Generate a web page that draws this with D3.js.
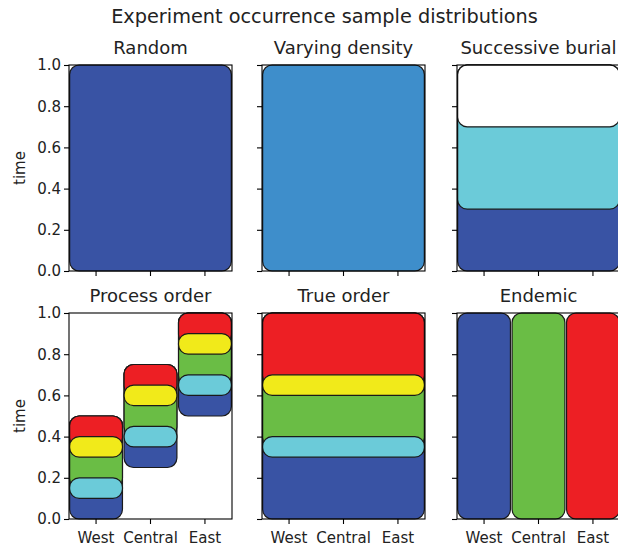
<!DOCTYPE html>
<html>
<head>
<meta charset="utf-8">
<script src="https://cdn.jsdelivr.net/npm/d3@7"></script>
<style>
  body { margin: 0; background: #fff; }
  svg { display: block; font-family: "DejaVu Sans", sans-serif; }
</style>
</head>
<body>
<svg id="chart" width="618" height="550"></svg>
<script>
// Regions (x categories) and time ticks
const regions = ["West", "Central", "East"];
const timeTicks = [0, 0.2, 0.4, 0.6, 0.8, 1.0];

const palette = {
  blue: "#3953a4",
  sky: "#3e8ecb",
  cyan: "#6bcbd9",
  green: "#6abd45",
  yellow: "#f1ea1a",
  red: "#ed1f24",
  white: "#ffffff"
};

// Each layer: colour, first region, last region, start time, end time.
// Later layers are drawn on top of earlier ones.
const randomLayers = [
  ["blue", 0, 2, 0, 1]
];
const densityLayers = [
  ["sky", 0, 2, 0, 1]
];
const burialLayers = [
  ["blue", 0, 2, 0, 1],
  ["cyan", 0, 2, 0.3, 1],
  ["white", 0, 2, 0.7, 1]
];
const processLayers = [
  ["blue", 0, 0, 0, 0.5], ["green", 0, 0, 0.15, 0.5], ["red", 0, 0, 0.35, 0.5],
  ["cyan", 0, 0, 0.1, 0.2], ["yellow", 0, 0, 0.3, 0.4],
  ["blue", 1, 1, 0.25, 0.75], ["green", 1, 1, 0.4, 0.75], ["red", 1, 1, 0.6, 0.75],
  ["cyan", 1, 1, 0.35, 0.45], ["yellow", 1, 1, 0.55, 0.65],
  ["blue", 2, 2, 0.5, 1], ["green", 2, 2, 0.65, 1], ["red", 2, 2, 0.85, 1],
  ["cyan", 2, 2, 0.6, 0.7], ["yellow", 2, 2, 0.8, 0.9]
];
const trueOrderLayers = [
  ["blue", 0, 2, 0, 1], ["green", 0, 2, 0.35, 1], ["red", 0, 2, 0.65, 1],
  ["cyan", 0, 2, 0.3, 0.4], ["yellow", 0, 2, 0.6, 0.7]
];
const endemicLayers = [
  ["blue", 0, 0, 0, 1],
  ["green", 1, 1, 0, 1],
  ["red", 2, 2, 0, 1]
];

const panelTitles = ["Random", "Varying density", "Successive burial",
                     "Process order", "True order", "Endemic"];
const panelLayers = [randomLayers, densityLayers, burialLayers,
                     processLayers, trueOrderLayers, endemicLayers];

const svg = d3.select("#chart");
const textColor = "#222";

// Grid layout
const colLeft = [69, 262, 457];
const rowTop = [65, 313];
const axW = 163, axH = 206;

svg.append("text")
  .attr("x", 324.5).attr("y", 23)
  .attr("text-anchor", "middle")
  .attr("font-size", 19.3)
  .attr("fill", textColor)
  .text("Experiment occurrence sample distributions");

panelTitles.forEach((title, idx) => {
  const row = Math.floor(idx / 3), col = idx % 3;
  const left = colLeft[col], top = rowTop[row];
  const g = svg.append("g");

  const x = d3.scaleBand().domain(regions)
    .range([left, left + axW]).paddingInner(0.03).paddingOuter(0.012);
  const y = d3.scaleLinear().domain([0, 1]).range([top + axH, top]);

  // Rounded occurrence boxes
  panelLayers[idx].forEach(([c, r0, r1, t0, t1]) => {
    const x0 = x(regions[r0]);
    const x1 = x(regions[r1]) + x.bandwidth();
    const y0 = y(t1), y1 = y(t0);
    const w = x1 - x0, h = y1 - y0;
    const r = Math.min(9.5, w / 2, h / 2);
    g.append("rect")
      .attr("x", x0).attr("y", y0)
      .attr("width", w).attr("height", h)
      .attr("rx", r).attr("ry", r)
      .attr("fill", palette[c])
      .attr("stroke", "#1a1a1a")
      .attr("stroke-width", 1.2);
  });

  // Axes
  const xAxis = d3.axisBottom(x).tickSize(5).tickPadding(8).tickSizeOuter(0)
    .tickFormat(row === 1 ? d => d : () => "");
  const yAxis = d3.axisLeft(y).tickValues(timeTicks).tickSize(5).tickPadding(3)
    .tickFormat(col === 0 ? d3.format(".1f") : () => "");

  const gx = g.append("g").attr("transform", `translate(0,${top + axH})`).call(xAxis);
  const gy = g.append("g").attr("transform", `translate(${left},0)`).call(yAxis);
  [gx, gy].forEach(a => {
    a.select(".domain").remove();
    a.selectAll("line").attr("stroke", "#000").attr("stroke-width", 1.1);
    a.selectAll("text").attr("font-size", 15).attr("fill", textColor)
      .attr("font-family", "DejaVu Sans, sans-serif");
  });

  // Frame
  g.append("rect")
    .attr("x", left).attr("y", top)
    .attr("width", axW).attr("height", axH)
    .attr("fill", "none").attr("stroke", "#000").attr("stroke-width", 1.1);

  g.append("text")
    .attr("x", left + axW / 2).attr("y", top - 11)
    .attr("text-anchor", "middle")
    .attr("font-size", 18)
    .attr("fill", textColor)
    .text(title);

  if (col === 0) {
    g.append("text")
      .attr("transform", `translate(25,${top + axH / 2}) rotate(-90)`)
      .attr("text-anchor", "middle")
      .attr("font-size", 15)
      .attr("fill", textColor)
      .text("time");
  }
});
</script>
</body>
</html>
